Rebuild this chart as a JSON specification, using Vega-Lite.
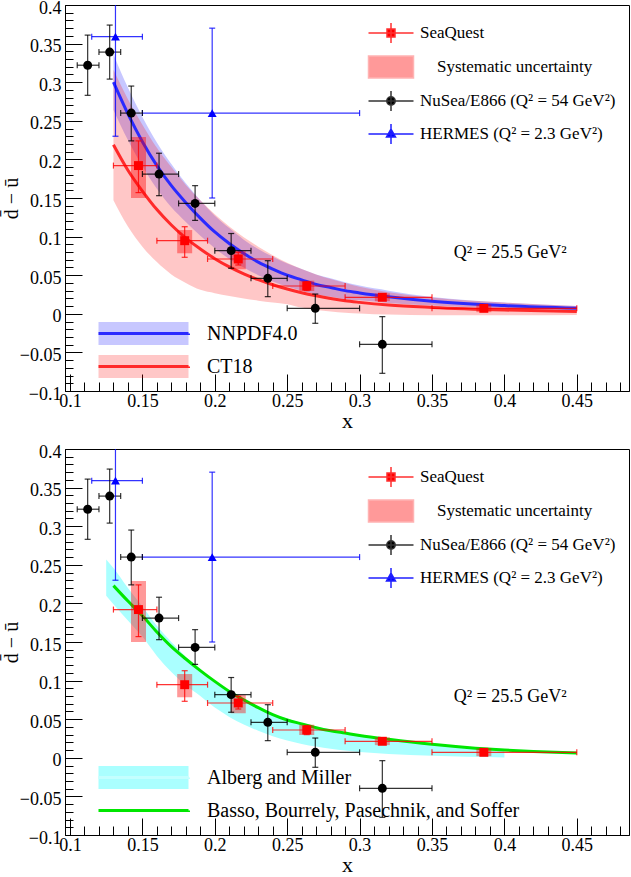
{
  "$schema": "https://vega.github.io/schema/vega-lite/v6.json",
  "background": "white",
  "padding": {"left": 0, "top": -2, "right": 0, "bottom": 0},
  "spacing": 58,
  "bounds": "flush",
  "config": {
    "font": "Liberation Serif",
    "view": {"stroke": "#000", "strokeWidth": 1},
    "axis": {"labelFont": "Liberation Serif", "titleFont": "Liberation Serif", "labelFontSize": 18, "titleFontSize": 22, "titleFontWeight": "normal", "labelColor": "#000", "titleColor": "#000", "domainColor": "#000", "tickColor": "#000", "domainWidth": 1, "tickWidth": 1, "grid": false, "labelOverlap": false, "labelFlush": false, "labelBound": false},
    "legend": {"labelFont": "Liberation Serif", "labelColor": "#000"}
  },
  "resolve": {
    "scale": {"x": "independent", "y": "independent", "color": "independent", "fill": "independent", "stroke": "independent"},
    "legend": {"color": "independent", "fill": "independent"}
  },
  "datasets": {
    "points": [
      {"series": "SeaQuest", "x": 0.1473, "y": 0.192, "xlo": 0.13, "xhi": 0.16, "ylo": 0.157, "yhi": 0.224},
      {"series": "SeaQuest", "x": 0.1792, "y": 0.0947, "xlo": 0.16, "xhi": 0.195, "ylo": 0.0732, "yhi": 0.1128},
      {"series": "SeaQuest", "x": 0.2162, "y": 0.071, "xlo": 0.195, "xhi": 0.24, "ylo": 0.0632, "yhi": 0.0797},
      {"series": "SeaQuest", "x": 0.2635, "y": 0.036, "xlo": 0.24, "xhi": 0.29, "ylo": 0.03, "yhi": 0.0416},
      {"series": "SeaQuest", "x": 0.3157, "y": 0.0214, "xlo": 0.29, "xhi": 0.35, "ylo": 0.0175, "yhi": 0.0253},
      {"series": "SeaQuest", "x": 0.3858, "y": 0.0071, "xlo": 0.35, "xhi": 0.45, "ylo": 0.0035, "yhi": 0.0107},
      {"series": "NuSea/E866 (Q² = 54 GeV²)", "x": 0.1122, "y": 0.322, "xlo": 0.105, "xhi": 0.12, "ylo": 0.283, "yhi": 0.361},
      {"series": "NuSea/E866 (Q² = 54 GeV²)", "x": 0.1274, "y": 0.339, "xlo": 0.12, "xhi": 0.135, "ylo": 0.304, "yhi": 0.374},
      {"series": "NuSea/E866 (Q² = 54 GeV²)", "x": 0.1423, "y": 0.26, "xlo": 0.135, "xhi": 0.15, "ylo": 0.224, "yhi": 0.295},
      {"series": "NuSea/E866 (Q² = 54 GeV²)", "x": 0.1615, "y": 0.181, "xlo": 0.15, "xhi": 0.175, "ylo": 0.153, "yhi": 0.208},
      {"series": "NuSea/E866 (Q² = 54 GeV²)", "x": 0.1864, "y": 0.143, "xlo": 0.175, "xhi": 0.2, "ylo": 0.121, "yhi": 0.166},
      {"series": "NuSea/E866 (Q² = 54 GeV²)", "x": 0.2113, "y": 0.0818, "xlo": 0.2, "xhi": 0.225, "ylo": 0.059, "yhi": 0.104},
      {"series": "NuSea/E866 (Q² = 54 GeV²)", "x": 0.2366, "y": 0.046, "xlo": 0.225, "xhi": 0.25, "ylo": 0.0222, "yhi": 0.0688},
      {"series": "NuSea/E866 (Q² = 54 GeV²)", "x": 0.2694, "y": 0.0071, "xlo": 0.25, "xhi": 0.3, "ylo": -0.0123, "yhi": 0.0256},
      {"series": "NuSea/E866 (Q² = 54 GeV²)", "x": 0.3157, "y": -0.0395, "xlo": 0.3, "xhi": 0.35, "ylo": -0.0771, "yhi": -0.0037},
      {"series": "HERMES (Q² = 2.3 GeV²)", "x": 0.1314, "y": 0.359, "xlo": 0.115, "xhi": 0.15, "ylo": 0.23, "yhi": 0.488},
      {"series": "HERMES (Q² = 2.3 GeV²)", "x": 0.1982, "y": 0.26, "xlo": 0.15, "xhi": 0.3, "ylo": 0.15, "yhi": 0.37}
    ],
    "syst": [
      {"x": 0.1473, "slo": 0.15, "shi": 0.229},
      {"x": 0.1792, "slo": 0.0784, "shi": 0.1085},
      {"x": 0.2162, "slo": 0.0577, "shi": 0.0813},
      {"x": 0.2635, "slo": 0.0295, "shi": 0.0429},
      {"x": 0.3157, "slo": 0.0164, "shi": 0.0264},
      {"x": 0.3858, "slo": 0.0021, "shi": 0.0121}
    ],
    "notes": [{"label": "Q² = 25.5 GeV²"}],
    "pdf": [
      {"model": "NNPDF4.0", "x": 0.13, "y": 0.3, "lo": 0.264, "hi": 0.336},
      {"model": "NNPDF4.0", "x": 0.14, "y": 0.259, "lo": 0.225, "hi": 0.293},
      {"model": "NNPDF4.0", "x": 0.15, "y": 0.223, "lo": 0.191, "hi": 0.255},
      {"model": "NNPDF4.0", "x": 0.16, "y": 0.192, "lo": 0.162, "hi": 0.222},
      {"model": "NNPDF4.0", "x": 0.17, "y": 0.166, "lo": 0.138, "hi": 0.194},
      {"model": "NNPDF4.0", "x": 0.18, "y": 0.144, "lo": 0.119, "hi": 0.169},
      {"model": "NNPDF4.0", "x": 0.19, "y": 0.124, "lo": 0.101, "hi": 0.147},
      {"model": "NNPDF4.0", "x": 0.2, "y": 0.106, "lo": 0.085, "hi": 0.127},
      {"model": "NNPDF4.0", "x": 0.21, "y": 0.091, "lo": 0.071, "hi": 0.111},
      {"model": "NNPDF4.0", "x": 0.22, "y": 0.078, "lo": 0.06, "hi": 0.096},
      {"model": "NNPDF4.0", "x": 0.23, "y": 0.067, "lo": 0.05, "hi": 0.084},
      {"model": "NNPDF4.0", "x": 0.24, "y": 0.058, "lo": 0.042, "hi": 0.074},
      {"model": "NNPDF4.0", "x": 0.25, "y": 0.05, "lo": 0.035, "hi": 0.065},
      {"model": "NNPDF4.0", "x": 0.26, "y": 0.044, "lo": 0.03, "hi": 0.058},
      {"model": "NNPDF4.0", "x": 0.27, "y": 0.038, "lo": 0.025, "hi": 0.051},
      {"model": "NNPDF4.0", "x": 0.28, "y": 0.034, "lo": 0.022, "hi": 0.046},
      {"model": "NNPDF4.0", "x": 0.29, "y": 0.03, "lo": 0.019, "hi": 0.041},
      {"model": "NNPDF4.0", "x": 0.3, "y": 0.027, "lo": 0.0175, "hi": 0.0365},
      {"model": "NNPDF4.0", "x": 0.32, "y": 0.022, "lo": 0.014, "hi": 0.03},
      {"model": "NNPDF4.0", "x": 0.35, "y": 0.0162, "lo": 0.0107, "hi": 0.0217},
      {"model": "NNPDF4.0", "x": 0.4, "y": 0.0106, "lo": 0.0066, "hi": 0.0146},
      {"model": "NNPDF4.0", "x": 0.45, "y": 0.0071, "lo": 0.0041, "hi": 0.0101},
      {"model": "CT18", "x": 0.13, "y": 0.219, "lo": 0.147, "hi": 0.316},
      {"model": "CT18", "x": 0.14, "y": 0.186, "lo": 0.113, "hi": 0.278},
      {"model": "CT18", "x": 0.15, "y": 0.159, "lo": 0.087, "hi": 0.245},
      {"model": "CT18", "x": 0.16, "y": 0.135, "lo": 0.067, "hi": 0.215},
      {"model": "CT18", "x": 0.17, "y": 0.115, "lo": 0.051, "hi": 0.19},
      {"model": "CT18", "x": 0.18, "y": 0.098, "lo": 0.04, "hi": 0.167},
      {"model": "CT18", "x": 0.19, "y": 0.084, "lo": 0.031, "hi": 0.147},
      {"model": "CT18", "x": 0.2, "y": 0.0714, "lo": 0.0267, "hi": 0.129},
      {"model": "CT18", "x": 0.21, "y": 0.0608, "lo": 0.023, "hi": 0.113},
      {"model": "CT18", "x": 0.22, "y": 0.0518, "lo": 0.0197, "hi": 0.099},
      {"model": "CT18", "x": 0.23, "y": 0.0442, "lo": 0.017, "hi": 0.087},
      {"model": "CT18", "x": 0.24, "y": 0.0376, "lo": 0.0146, "hi": 0.076},
      {"model": "CT18", "x": 0.25, "y": 0.0321, "lo": 0.0125, "hi": 0.066},
      {"model": "CT18", "x": 0.26, "y": 0.0273, "lo": 0.008, "hi": 0.058},
      {"model": "CT18", "x": 0.27, "y": 0.0233, "lo": 0.005, "hi": 0.051},
      {"model": "CT18", "x": 0.28, "y": 0.0198, "lo": 0.003, "hi": 0.045},
      {"model": "CT18", "x": 0.29, "y": 0.0169, "lo": 0.0015, "hi": 0.04},
      {"model": "CT18", "x": 0.3, "y": 0.0148, "lo": 0.0005, "hi": 0.035},
      {"model": "CT18", "x": 0.32, "y": 0.0114, "lo": -0.001, "hi": 0.028},
      {"model": "CT18", "x": 0.35, "y": 0.0083, "lo": -0.002, "hi": 0.021},
      {"model": "CT18", "x": 0.4, "y": 0.0049, "lo": -0.002, "hi": 0.0145},
      {"model": "CT18", "x": 0.45, "y": 0.0029, "lo": -0.0015, "hi": 0.0101}
    ],
    "am": [
      {"model": "Alberg and Miller", "x": 0.125, "lo": 0.21, "hi": 0.257},
      {"model": "Alberg and Miller", "x": 0.13, "lo": 0.199, "hi": 0.246},
      {"model": "Alberg and Miller", "x": 0.14, "lo": 0.178, "hi": 0.22},
      {"model": "Alberg and Miller", "x": 0.15, "lo": 0.157, "hi": 0.196},
      {"model": "Alberg and Miller", "x": 0.16, "lo": 0.132, "hi": 0.171},
      {"model": "Alberg and Miller", "x": 0.17, "lo": 0.111, "hi": 0.15},
      {"model": "Alberg and Miller", "x": 0.18, "lo": 0.094, "hi": 0.131},
      {"model": "Alberg and Miller", "x": 0.19, "lo": 0.08, "hi": 0.115},
      {"model": "Alberg and Miller", "x": 0.2, "lo": 0.065, "hi": 0.099},
      {"model": "Alberg and Miller", "x": 0.21, "lo": 0.053, "hi": 0.0855},
      {"model": "Alberg and Miller", "x": 0.22, "lo": 0.043, "hi": 0.0738},
      {"model": "Alberg and Miller", "x": 0.23, "lo": 0.035, "hi": 0.0637},
      {"model": "Alberg and Miller", "x": 0.24, "lo": 0.028, "hi": 0.0563},
      {"model": "Alberg and Miller", "x": 0.25, "lo": 0.0225, "hi": 0.051},
      {"model": "Alberg and Miller", "x": 0.26, "lo": 0.018, "hi": 0.045},
      {"model": "Alberg and Miller", "x": 0.27, "lo": 0.0145, "hi": 0.0405},
      {"model": "Alberg and Miller", "x": 0.28, "lo": 0.0116, "hi": 0.0365},
      {"model": "Alberg and Miller", "x": 0.29, "lo": 0.0093, "hi": 0.033},
      {"model": "Alberg and Miller", "x": 0.3, "lo": 0.0075, "hi": 0.03},
      {"model": "Alberg and Miller", "x": 0.32, "lo": 0.005, "hi": 0.0245},
      {"model": "Alberg and Miller", "x": 0.35, "lo": 0.0025, "hi": 0.018},
      {"model": "Alberg and Miller", "x": 0.375, "lo": 0.0012, "hi": 0.0142},
      {"model": "Alberg and Miller", "x": 0.4, "lo": 0.0005, "hi": 0.0112}
    ],
    "bbps": [
      {"x": 0.13, "y": 0.223}, {"x": 0.14, "y": 0.203}, {"x": 0.15, "y": 0.184}, {"x": 0.16, "y": 0.163},
      {"x": 0.17, "y": 0.144}, {"x": 0.18, "y": 0.128}, {"x": 0.19, "y": 0.113}, {"x": 0.2, "y": 0.099},
      {"x": 0.21, "y": 0.086}, {"x": 0.22, "y": 0.075}, {"x": 0.23, "y": 0.065}, {"x": 0.24, "y": 0.056},
      {"x": 0.25, "y": 0.049}, {"x": 0.26, "y": 0.044}, {"x": 0.27, "y": 0.039}, {"x": 0.28, "y": 0.035},
      {"x": 0.29, "y": 0.032}, {"x": 0.3, "y": 0.029}, {"x": 0.32, "y": 0.024}, {"x": 0.35, "y": 0.0175},
      {"x": 0.38, "y": 0.0125}, {"x": 0.4, "y": 0.01}, {"x": 0.42, "y": 0.0082}, {"x": 0.45, "y": 0.0062}
    ]
  },
  "vconcat": [
    {
      "width": 564,
      "height": 386,
      "layer": [
        {
          "data": {"name": "pdf"},
          "mark": {"type": "area", "fillOpacity": 0.22, "opacity": 1, "interpolate": "monotone"},
          "encoding": {
            "x": {"field": "x", "type": "quantitative", "scale": {"domain": [0.1, 0.4826], "nice": false, "zero": false},
              "axis": {"title": "x", "tickCount": 100, "values": [0.1,0.11,0.12,0.13,0.14,0.15,0.16,0.17,0.18,0.19,0.2,0.21,0.22,0.23,0.24,0.25,0.26,0.27,0.28,0.29,0.3,0.31,0.32,0.33,0.34,0.35,0.36,0.37,0.38,0.39,0.4,0.41,0.42,0.43,0.44,0.45,0.46,0.47,0.48],
                "labelExpr": "abs(datum.value*20-round(datum.value*20))<0.001 ? format(datum.value,'.2~f') : ''",
                "tickSize": -9,
                "encoding": {"ticks": {"y2": {"condition": {"test": "abs(datum.value*20-round(datum.value*20))<0.001", "value": -17}, "value": -9}}},
                "labelPadding": 10, "titlePadding": 0, "labelOverlap": false, "labelFlush": false}},
            "y": {"field": "lo", "type": "quantitative", "scale": {"domain": [-0.1, 0.4], "nice": false, "zero": false},
              "axis": {"title": "d̄ − ū", "titleFontSize": 20, "tickCount": 100, "values": [-0.1,-0.09,-0.08,-0.07,-0.06,-0.05,-0.04,-0.03,-0.02,-0.01,0,0.01,0.02,0.03,0.04,0.05,0.06,0.07,0.08,0.09,0.1,0.11,0.12,0.13,0.14,0.15,0.16,0.17,0.18,0.19,0.2,0.21,0.22,0.23,0.24,0.25,0.26,0.27,0.28,0.29,0.3,0.31,0.32,0.33,0.34,0.35,0.36,0.37,0.38,0.39,0.4],
                "labelExpr": "abs(datum.value*20-round(datum.value*20))<0.001 ? format(datum.value,'.2~f') : ''",
                "tickSize": -8,
                "encoding": {"ticks": {"x2": {"condition": {"test": "abs(datum.value*20-round(datum.value*20))<0.001", "value": 17}, "value": 8}}},
                "labelPadding": 12, "labelOffset": 3, "titlePadding": -2, "labelOverlap": false, "labelFlush": false}},
            "y2": {"field": "hi"},
            "fill": {"field": "model", "type": "nominal", "scale": {"domain": ["NNPDF4.0", "CT18"], "range": ["#0000ff", "#ff0000"]},
              "legend": {"title": null, "orient": "none", "direction": "vertical", "legendX": 65.5, "legendY": 315.5, "padding": 0,
                "symbolSize": 529, "labelFontSize": 20, "labelOffset": 50.5, "rowPadding": -3, "labelLimit": 400,
                "encoding": {"symbols": {
                  "shape": {"value": "M-3.913,0L3.913,0L3.913,-1L-3.913,-1L-3.913,1L3.913,1L3.913,0Z"},
                  "fillOpacity": {"value": 0.22},
                  "stroke": {"condition": {"test": "datum.value==='NNPDF4.0'", "value": "#2a2aff"}, "value": "#ff2a2a"},
                  "strokeWidth": {"value": 3}, "strokeDash": {"value": [90, 3000]}, "strokeOpacity": {"value": 1}, "opacity": {"value": 1}}}}}
          }
        },
        {
          "data": {"name": "pdf"},
          "transform": [{"filter": "datum.model === 'NNPDF4.0'"}],
          "mark": {"type": "line", "strokeWidth": 3, "color": "#2a2aff", "interpolate": "monotone"},
          "encoding": {
            "x": {"field": "x", "type": "quantitative", "scale": {"domain": [0.1, 0.4826], "nice": false, "zero": false}},
            "y": {"field": "y", "type": "quantitative", "scale": {"domain": [-0.1, 0.4], "nice": false, "zero": false}}
          }
        },
        {
          "data": {"name": "pdf"},
          "transform": [{"filter": "datum.model === 'CT18'"}],
          "mark": {"type": "line", "strokeWidth": 3, "color": "#ff2a2a", "interpolate": "monotone"},
          "encoding": {
            "x": {"field": "x", "type": "quantitative", "scale": {"domain": [0.1, 0.4826], "nice": false, "zero": false}},
            "y": {"field": "y", "type": "quantitative", "scale": {"domain": [-0.1, 0.4], "nice": false, "zero": false}}
          }
        },
        {
          "mark": {"type": "rule", "color": "#000", "strokeWidth": 1},
          "encoding": {"y": {"datum": 0, "type": "quantitative", "scale": {"domain": [-0.1, 0.4], "nice": false, "zero": false}}}
        },
        {
          "data": {"name": "syst"},
          "mark": {"type": "bar", "size": 15, "color": "#ff0000", "opacity": 0.4},
          "encoding": {
            "x": {"field": "x", "type": "quantitative", "scale": {"domain": [0.1, 0.4826], "nice": false, "zero": false}},
            "y": {"field": "slo", "type": "quantitative", "scale": {"domain": [-0.1, 0.4], "nice": false, "zero": false}},
            "y2": {"field": "shi"}
          }
        },
        {
          "data": {"name": "points"},
          "mark": {"type": "rule", "strokeWidth": 1.2, "opacity": 0.8, "clip": true},
          "encoding": {
            "x": {"field": "xlo", "type": "quantitative", "scale": {"domain": [0.1, 0.4826], "nice": false, "zero": false}},
            "x2": {"field": "xhi"},
            "y": {"field": "y", "type": "quantitative", "scale": {"domain": [-0.1, 0.4], "nice": false, "zero": false}},
            "stroke": {"field": "series", "type": "nominal", "scale": {"domain": ["SeaQuest", "NuSea/E866 (Q² = 54 GeV²)", "HERMES (Q² = 2.3 GeV²)"], "range": ["#ff0000", "#000000", "#0000ff"]}, "legend": null}
          }
        },
        {
          "data": {"name": "points"},
          "mark": {"type": "rule", "strokeWidth": 1.2, "opacity": 0.8, "clip": true},
          "encoding": {
            "x": {"field": "x", "type": "quantitative", "scale": {"domain": [0.1, 0.4826], "nice": false, "zero": false}},
            "y": {"field": "ylo", "type": "quantitative", "scale": {"domain": [-0.1, 0.4], "nice": false, "zero": false}},
            "y2": {"field": "yhi"},
            "stroke": {"field": "series", "type": "nominal", "scale": {"domain": ["SeaQuest", "NuSea/E866 (Q² = 54 GeV²)", "HERMES (Q² = 2.3 GeV²)"], "range": ["#ff0000", "#000000", "#0000ff"]}, "legend": null}
          }
        },
        {
          "data": {"name": "points"},
          "mark": {"type": "point", "shape": "M0,-1V1", "filled": false, "size": 36, "strokeWidth": 1.2, "opacity": 0.8, "clip": true},
          "encoding": {
            "x": {"field": "xlo", "type": "quantitative", "scale": {"domain": [0.1, 0.4826], "nice": false, "zero": false}},
            "y": {"field": "y", "type": "quantitative", "scale": {"domain": [-0.1, 0.4], "nice": false, "zero": false}},
            "stroke": {"field": "series", "type": "nominal", "scale": {"domain": ["SeaQuest", "NuSea/E866 (Q² = 54 GeV²)", "HERMES (Q² = 2.3 GeV²)"], "range": ["#ff0000", "#000000", "#0000ff"]}, "legend": null}
          }
        },
        {
          "data": {"name": "points"},
          "mark": {"type": "point", "shape": "M0,-1V1", "filled": false, "size": 36, "strokeWidth": 1.2, "opacity": 0.8, "clip": true},
          "encoding": {
            "x": {"field": "xhi", "type": "quantitative", "scale": {"domain": [0.1, 0.4826], "nice": false, "zero": false}},
            "y": {"field": "y", "type": "quantitative", "scale": {"domain": [-0.1, 0.4], "nice": false, "zero": false}},
            "stroke": {"field": "series", "type": "nominal", "scale": {"domain": ["SeaQuest", "NuSea/E866 (Q² = 54 GeV²)", "HERMES (Q² = 2.3 GeV²)"], "range": ["#ff0000", "#000000", "#0000ff"]}, "legend": null}
          }
        },
        {
          "data": {"name": "points"},
          "mark": {"type": "point", "shape": "M-1,0H1", "filled": false, "size": 36, "strokeWidth": 1.2, "opacity": 0.8, "clip": true},
          "encoding": {
            "x": {"field": "x", "type": "quantitative", "scale": {"domain": [0.1, 0.4826], "nice": false, "zero": false}},
            "y": {"field": "ylo", "type": "quantitative", "scale": {"domain": [-0.1, 0.4], "nice": false, "zero": false}},
            "stroke": {"field": "series", "type": "nominal", "scale": {"domain": ["SeaQuest", "NuSea/E866 (Q² = 54 GeV²)", "HERMES (Q² = 2.3 GeV²)"], "range": ["#ff0000", "#000000", "#0000ff"]}, "legend": null}
          }
        },
        {
          "data": {"name": "points"},
          "mark": {"type": "point", "shape": "M-1,0H1", "filled": false, "size": 36, "strokeWidth": 1.2, "opacity": 0.8, "clip": true},
          "encoding": {
            "x": {"field": "x", "type": "quantitative", "scale": {"domain": [0.1, 0.4826], "nice": false, "zero": false}},
            "y": {"field": "yhi", "type": "quantitative", "scale": {"domain": [-0.1, 0.4], "nice": false, "zero": false}},
            "stroke": {"field": "series", "type": "nominal", "scale": {"domain": ["SeaQuest", "NuSea/E866 (Q² = 54 GeV²)", "HERMES (Q² = 2.3 GeV²)"], "range": ["#ff0000", "#000000", "#0000ff"]}, "legend": null}
          }
        },
        {
          "data": {"name": "points"},
          "mark": {"type": "point", "filled": true, "size": 80, "opacity": 1},
          "encoding": {
            "x": {"field": "x", "type": "quantitative", "scale": {"domain": [0.1, 0.4826], "nice": false, "zero": false}},
            "y": {"field": "y", "type": "quantitative", "scale": {"domain": [-0.1, 0.4], "nice": false, "zero": false}},
            "shape": {"field": "series", "type": "nominal", "scale": {"domain": ["SeaQuest", "NuSea/E866 (Q² = 54 GeV²)", "HERMES (Q² = 2.3 GeV²)"], "range": ["square", "circle", "triangle-up"]}, "legend": null},
            "color": {"field": "series", "type": "nominal",
              "scale": {"domain": ["SeaQuest", "Systematic uncertainty", "NuSea/E866 (Q² = 54 GeV²)", "HERMES (Q² = 2.3 GeV²)"], "range": ["#ff0000", "#ff9999", "#000000", "#0000ff"]},
              "legend": {"title": null, "orient": "none", "direction": "vertical", "legendX": 315, "legendY": 17, "padding": 0,
                "symbolSize": 400, "labelFontSize": 17, "labelOffset": 18, "rowPadding": 7, "labelLimit": 400,
                "encoding": {
                  "symbols": {
                    "shape": {"condition": [
                      {"test": "datum.value==='SeaQuest'", "value": "M-2.25,0H2.25M0,-1V1M-0.4,-0.4H0.4V0.4H-0.4Z"},
                      {"test": "datum.value==='Systematic uncertainty'", "value": "M-2.25,-1.1H2.25V1.1H-2.25Z"},
                      {"test": "indexof(datum.value,'NuSea')===0", "value": "M-2.25,0H2.25M0,-1V1M0.42,0A0.42,0.42 0 1,1 -0.42,0A0.42,0.42 0 1,1 0.42,0Z"}],
                      "value": "M-2.25,0H2.25M0,-1V1M0,-0.5L0.45,0.3L-0.45,0.3Z"},
                    "stroke": {"condition": [
                      {"test": "datum.value==='SeaQuest'", "value": "#ff3030"},
                      {"test": "datum.value==='Systematic uncertainty'", "value": "#ffb3b3"},
                      {"test": "indexof(datum.value,'NuSea')===0", "value": "#333333"}],
                      "value": "#2020ff"},
                    "strokeWidth": {"value": 1.5}, "opacity": {"value": 1}, "fillOpacity": {"value": 1}, "strokeOpacity": {"value": 1}},
                  "labels": {"dx": {"condition": {"test": "datum.value==='Systematic uncertainty'", "value": 17}, "value": 0}}
                }}}
          }
        },
        {
          "data": {"name": "notes"},
          "mark": {"type": "text", "align": "left", "baseline": "middle", "fontSize": 18, "font": "Liberation Serif", "color": "#000"},
          "encoding": {
            "text": {"field": "label"},
            "x": {"datum": 0.365, "type": "quantitative", "scale": {"domain": [0.1, 0.4826], "nice": false, "zero": false}},
            "y": {"datum": 0.079, "type": "quantitative", "scale": {"domain": [-0.1, 0.4], "nice": false, "zero": false}}
          }
        }
      ]
    },
    {
      "width": 564,
      "height": 386,
      "layer": [
        {
          "data": {"name": "am"},
          "mark": {"type": "area", "fillOpacity": 1, "opacity": 1, "interpolate": "monotone"},
          "encoding": {
            "x": {"field": "x", "type": "quantitative", "scale": {"domain": [0.1, 0.4826], "nice": false, "zero": false},
              "axis": {"title": "x", "tickCount": 100, "values": [0.1,0.11,0.12,0.13,0.14,0.15,0.16,0.17,0.18,0.19,0.2,0.21,0.22,0.23,0.24,0.25,0.26,0.27,0.28,0.29,0.3,0.31,0.32,0.33,0.34,0.35,0.36,0.37,0.38,0.39,0.4,0.41,0.42,0.43,0.44,0.45,0.46,0.47,0.48],
                "labelExpr": "abs(datum.value*20-round(datum.value*20))<0.001 ? format(datum.value,'.2~f') : ''",
                "tickSize": -9,
                "encoding": {"ticks": {"y2": {"condition": {"test": "abs(datum.value*20-round(datum.value*20))<0.001", "value": -17}, "value": -9}}},
                "labelPadding": 10, "titlePadding": 0, "labelOverlap": false, "labelFlush": false}},
            "y": {"field": "lo", "type": "quantitative", "scale": {"domain": [-0.1, 0.4], "nice": false, "zero": false},
              "axis": {"title": "d̄ − ū", "titleFontSize": 20, "tickCount": 100, "values": [-0.1,-0.09,-0.08,-0.07,-0.06,-0.05,-0.04,-0.03,-0.02,-0.01,0,0.01,0.02,0.03,0.04,0.05,0.06,0.07,0.08,0.09,0.1,0.11,0.12,0.13,0.14,0.15,0.16,0.17,0.18,0.19,0.2,0.21,0.22,0.23,0.24,0.25,0.26,0.27,0.28,0.29,0.3,0.31,0.32,0.33,0.34,0.35,0.36,0.37,0.38,0.39,0.4],
                "labelExpr": "abs(datum.value*20-round(datum.value*20))<0.001 ? format(datum.value,'.2~f') : ''",
                "tickSize": -8,
                "encoding": {"ticks": {"x2": {"condition": {"test": "abs(datum.value*20-round(datum.value*20))<0.001", "value": 17}, "value": 8}}},
                "labelPadding": 12, "labelOffset": 3, "titlePadding": -2, "labelOverlap": false, "labelFlush": false}},
            "y2": {"field": "hi"},
            "fill": {"field": "model", "type": "nominal", "scale": {"domain": ["Alberg and Miller", "Basso, Bourrely, Pasechnik, and Soffer"], "range": ["#aaffff", "#00e600"]},
              "legend": {"title": null, "orient": "none", "direction": "vertical", "legendX": 65.5, "legendY": 315.5, "padding": 0,
                "symbolSize": 529, "labelFontSize": 20, "labelOffset": 50.5, "rowPadding": -3, "labelLimit": 500,
                "encoding": {"symbols": {
                  "shape": {"value": "M-3.913,0L3.913,0L3.913,-1L-3.913,-1L-3.913,1L3.913,1L3.913,0Z"},
                  "fillOpacity": {"condition": {"test": "datum.value==='Alberg and Miller'", "value": 1}, "value": 0},
                  "stroke": {"condition": {"test": "datum.value==='Alberg and Miller'", "value": "#c4ffff"}, "value": "#00e600"},
                  "strokeWidth": {"value": 3}, "strokeDash": {"value": [90, 3000]}, "strokeOpacity": {"value": 1}, "opacity": {"value": 1}}}}}
          }
        },
        {
          "data": {"name": "bbps"},
          "mark": {"type": "line", "strokeWidth": 3, "color": "#00e600", "interpolate": "monotone"},
          "encoding": {
            "x": {"field": "x", "type": "quantitative", "scale": {"domain": [0.1, 0.4826], "nice": false, "zero": false}},
            "y": {"field": "y", "type": "quantitative", "scale": {"domain": [-0.1, 0.4], "nice": false, "zero": false}}
          }
        },
        {
          "mark": {"type": "rule", "color": "#555", "strokeWidth": 1.5},
          "encoding": {"y": {"datum": 0, "type": "quantitative", "scale": {"domain": [-0.1, 0.4], "nice": false, "zero": false}}}
        },
        {
          "data": {"name": "syst"},
          "mark": {"type": "bar", "size": 15, "color": "#ff0000", "opacity": 0.4},
          "encoding": {
            "x": {"field": "x", "type": "quantitative", "scale": {"domain": [0.1, 0.4826], "nice": false, "zero": false}},
            "y": {"field": "slo", "type": "quantitative", "scale": {"domain": [-0.1, 0.4], "nice": false, "zero": false}},
            "y2": {"field": "shi"}
          }
        },
        {
          "data": {"name": "points"},
          "mark": {"type": "rule", "strokeWidth": 1.2, "opacity": 0.8, "clip": true},
          "encoding": {
            "x": {"field": "xlo", "type": "quantitative", "scale": {"domain": [0.1, 0.4826], "nice": false, "zero": false}},
            "x2": {"field": "xhi"},
            "y": {"field": "y", "type": "quantitative", "scale": {"domain": [-0.1, 0.4], "nice": false, "zero": false}},
            "stroke": {"field": "series", "type": "nominal", "scale": {"domain": ["SeaQuest", "NuSea/E866 (Q² = 54 GeV²)", "HERMES (Q² = 2.3 GeV²)"], "range": ["#ff0000", "#000000", "#0000ff"]}, "legend": null}
          }
        },
        {
          "data": {"name": "points"},
          "mark": {"type": "rule", "strokeWidth": 1.2, "opacity": 0.8, "clip": true},
          "encoding": {
            "x": {"field": "x", "type": "quantitative", "scale": {"domain": [0.1, 0.4826], "nice": false, "zero": false}},
            "y": {"field": "ylo", "type": "quantitative", "scale": {"domain": [-0.1, 0.4], "nice": false, "zero": false}},
            "y2": {"field": "yhi"},
            "stroke": {"field": "series", "type": "nominal", "scale": {"domain": ["SeaQuest", "NuSea/E866 (Q² = 54 GeV²)", "HERMES (Q² = 2.3 GeV²)"], "range": ["#ff0000", "#000000", "#0000ff"]}, "legend": null}
          }
        },
        {
          "data": {"name": "points"},
          "mark": {"type": "point", "shape": "M0,-1V1", "filled": false, "size": 36, "strokeWidth": 1.2, "opacity": 0.8, "clip": true},
          "encoding": {
            "x": {"field": "xlo", "type": "quantitative", "scale": {"domain": [0.1, 0.4826], "nice": false, "zero": false}},
            "y": {"field": "y", "type": "quantitative", "scale": {"domain": [-0.1, 0.4], "nice": false, "zero": false}},
            "stroke": {"field": "series", "type": "nominal", "scale": {"domain": ["SeaQuest", "NuSea/E866 (Q² = 54 GeV²)", "HERMES (Q² = 2.3 GeV²)"], "range": ["#ff0000", "#000000", "#0000ff"]}, "legend": null}
          }
        },
        {
          "data": {"name": "points"},
          "mark": {"type": "point", "shape": "M0,-1V1", "filled": false, "size": 36, "strokeWidth": 1.2, "opacity": 0.8, "clip": true},
          "encoding": {
            "x": {"field": "xhi", "type": "quantitative", "scale": {"domain": [0.1, 0.4826], "nice": false, "zero": false}},
            "y": {"field": "y", "type": "quantitative", "scale": {"domain": [-0.1, 0.4], "nice": false, "zero": false}},
            "stroke": {"field": "series", "type": "nominal", "scale": {"domain": ["SeaQuest", "NuSea/E866 (Q² = 54 GeV²)", "HERMES (Q² = 2.3 GeV²)"], "range": ["#ff0000", "#000000", "#0000ff"]}, "legend": null}
          }
        },
        {
          "data": {"name": "points"},
          "mark": {"type": "point", "shape": "M-1,0H1", "filled": false, "size": 36, "strokeWidth": 1.2, "opacity": 0.8, "clip": true},
          "encoding": {
            "x": {"field": "x", "type": "quantitative", "scale": {"domain": [0.1, 0.4826], "nice": false, "zero": false}},
            "y": {"field": "ylo", "type": "quantitative", "scale": {"domain": [-0.1, 0.4], "nice": false, "zero": false}},
            "stroke": {"field": "series", "type": "nominal", "scale": {"domain": ["SeaQuest", "NuSea/E866 (Q² = 54 GeV²)", "HERMES (Q² = 2.3 GeV²)"], "range": ["#ff0000", "#000000", "#0000ff"]}, "legend": null}
          }
        },
        {
          "data": {"name": "points"},
          "mark": {"type": "point", "shape": "M-1,0H1", "filled": false, "size": 36, "strokeWidth": 1.2, "opacity": 0.8, "clip": true},
          "encoding": {
            "x": {"field": "x", "type": "quantitative", "scale": {"domain": [0.1, 0.4826], "nice": false, "zero": false}},
            "y": {"field": "yhi", "type": "quantitative", "scale": {"domain": [-0.1, 0.4], "nice": false, "zero": false}},
            "stroke": {"field": "series", "type": "nominal", "scale": {"domain": ["SeaQuest", "NuSea/E866 (Q² = 54 GeV²)", "HERMES (Q² = 2.3 GeV²)"], "range": ["#ff0000", "#000000", "#0000ff"]}, "legend": null}
          }
        },
        {
          "data": {"name": "points"},
          "mark": {"type": "point", "filled": true, "size": 80, "opacity": 1},
          "encoding": {
            "x": {"field": "x", "type": "quantitative", "scale": {"domain": [0.1, 0.4826], "nice": false, "zero": false}},
            "y": {"field": "y", "type": "quantitative", "scale": {"domain": [-0.1, 0.4], "nice": false, "zero": false}},
            "shape": {"field": "series", "type": "nominal", "scale": {"domain": ["SeaQuest", "NuSea/E866 (Q² = 54 GeV²)", "HERMES (Q² = 2.3 GeV²)"], "range": ["square", "circle", "triangle-up"]}, "legend": null},
            "color": {"field": "series", "type": "nominal",
              "scale": {"domain": ["SeaQuest", "Systematic uncertainty", "NuSea/E866 (Q² = 54 GeV²)", "HERMES (Q² = 2.3 GeV²)"], "range": ["#ff0000", "#ff9999", "#000000", "#0000ff"]},
              "legend": {"title": null, "orient": "none", "direction": "vertical", "legendX": 315, "legendY": 17, "padding": 0,
                "symbolSize": 400, "labelFontSize": 17, "labelOffset": 18, "rowPadding": 7, "labelLimit": 400,
                "encoding": {
                  "symbols": {
                    "shape": {"condition": [
                      {"test": "datum.value==='SeaQuest'", "value": "M-2.25,0H2.25M0,-1V1M-0.4,-0.4H0.4V0.4H-0.4Z"},
                      {"test": "datum.value==='Systematic uncertainty'", "value": "M-2.25,-1.1H2.25V1.1H-2.25Z"},
                      {"test": "indexof(datum.value,'NuSea')===0", "value": "M-2.25,0H2.25M0,-1V1M0.42,0A0.42,0.42 0 1,1 -0.42,0A0.42,0.42 0 1,1 0.42,0Z"}],
                      "value": "M-2.25,0H2.25M0,-1V1M0,-0.5L0.45,0.3L-0.45,0.3Z"},
                    "stroke": {"condition": [
                      {"test": "datum.value==='SeaQuest'", "value": "#ff3030"},
                      {"test": "datum.value==='Systematic uncertainty'", "value": "#ffb3b3"},
                      {"test": "indexof(datum.value,'NuSea')===0", "value": "#333333"}],
                      "value": "#2020ff"},
                    "strokeWidth": {"value": 1.5}, "opacity": {"value": 1}, "fillOpacity": {"value": 1}, "strokeOpacity": {"value": 1}},
                  "labels": {"dx": {"condition": {"test": "datum.value==='Systematic uncertainty'", "value": 17}, "value": 0}}
                }}}
          }
        },
        {
          "data": {"name": "notes"},
          "mark": {"type": "text", "align": "left", "baseline": "middle", "fontSize": 18, "font": "Liberation Serif", "color": "#000"},
          "encoding": {
            "text": {"field": "label"},
            "x": {"datum": 0.365, "type": "quantitative", "scale": {"domain": [0.1, 0.4826], "nice": false, "zero": false}},
            "y": {"datum": 0.079, "type": "quantitative", "scale": {"domain": [-0.1, 0.4], "nice": false, "zero": false}}
          }
        }
      ]
    }
  ]
}
